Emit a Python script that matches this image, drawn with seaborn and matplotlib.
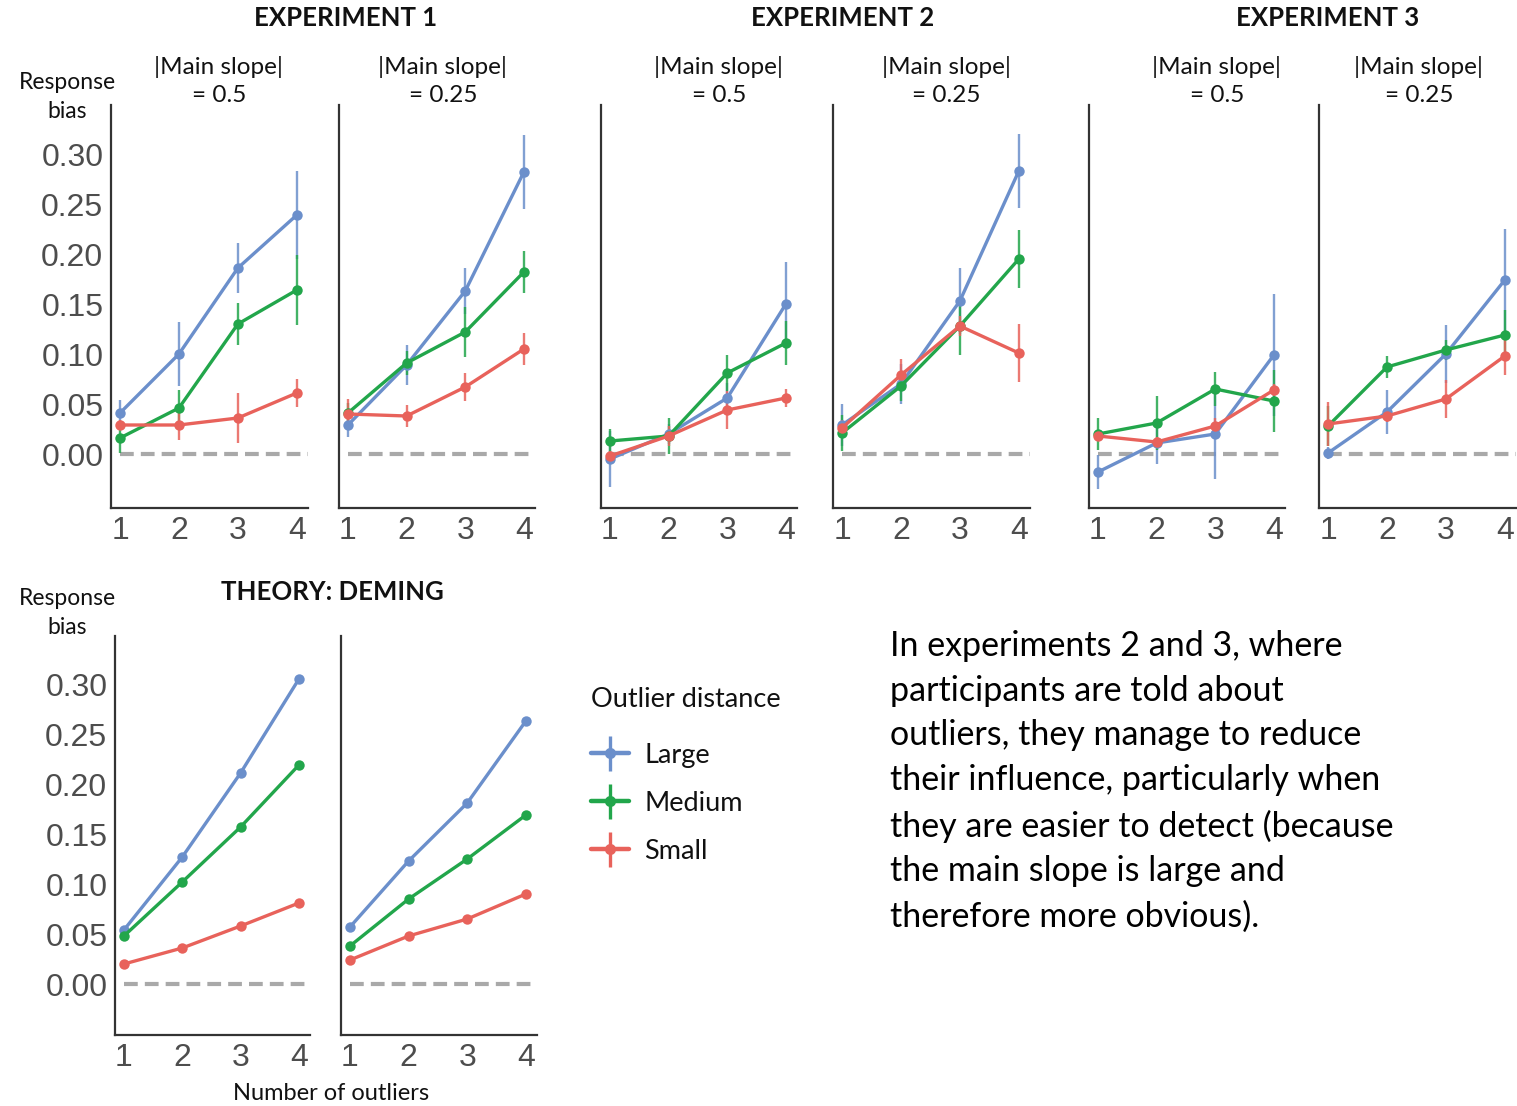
import numpy as np
import pandas as pd
import seaborn as sns
import matplotlib
matplotlib.use("Agg")
import matplotlib.pyplot as plt
from matplotlib.lines import Line2D
from matplotlib.collections import LineCollection
from matplotlib.container import ErrorbarContainer
from matplotlib.legend_handler import HandlerErrorbar

# ---- data ---------------------------------------------------------------
outliers = [1, 2, 3, 4]
distances = ["Large", "Medium", "Small"]

# Experiment 1, |main slope| = 0.5
e1_s05_large = [0.041, 0.100, 0.186, 0.239]
e1_s05_large_err = [0.013, 0.032, 0.025, 0.044]
e1_s05_medium = [0.016, 0.046, 0.130, 0.164]
e1_s05_medium_err = [0.015, 0.018, 0.021, 0.035]
e1_s05_small = [0.029, 0.029, 0.036, 0.061]
e1_s05_small_err = [0.005, 0.015, 0.025, 0.014]

# Experiment 1, |main slope| = 0.25
e1_s025_large = [0.029, 0.089, 0.163, 0.282]
e1_s025_large_err = [0.012, 0.020, 0.023, 0.037]
e1_s025_medium = [0.041, 0.091, 0.122, 0.182]
e1_s025_medium_err = [0.010, 0.012, 0.025, 0.021]
e1_s025_small = [0.040, 0.038, 0.067, 0.105]
e1_s025_small_err = [0.015, 0.011, 0.014, 0.016]

# Experiment 2, |main slope| = 0.5
e2_s05_large = [-0.005, 0.020, 0.056, 0.150]
e2_s05_large_err = [0.028, 0.010, 0.015, 0.042]
e2_s05_medium = [0.013, 0.018, 0.081, 0.111]
e2_s05_medium_err = [0.012, 0.018, 0.018, 0.022]
e2_s05_small = [-0.002, 0.018, 0.044, 0.056]
e2_s05_small_err = [0.005, 0.010, 0.019, 0.009]

# Experiment 2, |main slope| = 0.25
e2_s025_large = [0.029, 0.070, 0.153, 0.283]
e2_s025_large_err = [0.021, 0.020, 0.033, 0.037]
e2_s025_medium = [0.021, 0.068, 0.128, 0.195]
e2_s025_medium_err = [0.018, 0.015, 0.029, 0.029]
e2_s025_small = [0.026, 0.079, 0.128, 0.101]
e2_s025_small_err = [0.008, 0.016, 0.010, 0.029]

# Experiment 3, |main slope| = 0.5
e3_s05_large = [-0.018, 0.011, 0.020, 0.099]
e3_s05_large_err = [0.017, 0.021, 0.045, 0.061]
e3_s05_medium = [0.020, 0.031, 0.065, 0.053]
e3_s05_medium_err = [0.016, 0.027, 0.017, 0.031]
e3_s05_small = [0.018, 0.012, 0.028, 0.064]
e3_s05_small_err = [0.005, 0.005, 0.008, 0.006]

# Experiment 3, |main slope| = 0.25
e3_s025_large = [0.001, 0.042, 0.100, 0.174]
e3_s025_large_err = [0.006, 0.022, 0.029, 0.051]
e3_s025_medium = [0.028, 0.087, 0.104, 0.119]
e3_s025_medium_err = [0.020, 0.011, 0.010, 0.025]
e3_s025_small = [0.030, 0.038, 0.055, 0.098]
e3_s025_small_err = [0.022, 0.006, 0.019, 0.019]

# Deming regression predictions
th_s05_large = [0.054, 0.127, 0.211, 0.305]
th_s05_medium = [0.048, 0.102, 0.157, 0.219]
th_s05_small = [0.020, 0.036, 0.058, 0.081]
th_s025_large = [0.057, 0.123, 0.181, 0.263]
th_s025_medium = [0.038, 0.085, 0.125, 0.169]
th_s025_small = [0.024, 0.048, 0.065, 0.090]

y_ticks = [0.00, 0.05, 0.10, 0.15, 0.20, 0.25, 0.30]
slope_labels = ["|Main slope|\n= 0.5", "|Main slope|\n= 0.25"]
group_titles = ["EXPERIMENT 1", "EXPERIMENT 2", "EXPERIMENT 3", "THEORY: DEMING"]
note = ("In experiments 2 and 3, where\n"
        "participants are told about\n"
        "outliers, they manage to reduce\n"
        "their influence, particularly when\n"
        "they are easier to detect (because\n"
        "the main slope is large and\n"
        "therefore more obvious).")

palette = {"Large": "#6b8fcb", "Medium": "#22a64b", "Small": "#e8625b"}

panels = {
    "e1_s05": ([e1_s05_large, e1_s05_medium, e1_s05_small],
               [e1_s05_large_err, e1_s05_medium_err, e1_s05_small_err]),
    "e1_s025": ([e1_s025_large, e1_s025_medium, e1_s025_small],
                [e1_s025_large_err, e1_s025_medium_err, e1_s025_small_err]),
    "e2_s05": ([e2_s05_large, e2_s05_medium, e2_s05_small],
               [e2_s05_large_err, e2_s05_medium_err, e2_s05_small_err]),
    "e2_s025": ([e2_s025_large, e2_s025_medium, e2_s025_small],
                [e2_s025_large_err, e2_s025_medium_err, e2_s025_small_err]),
    "e3_s05": ([e3_s05_large, e3_s05_medium, e3_s05_small],
               [e3_s05_large_err, e3_s05_medium_err, e3_s05_small_err]),
    "e3_s025": ([e3_s025_large, e3_s025_medium, e3_s025_small],
                [e3_s025_large_err, e3_s025_medium_err, e3_s025_small_err]),
    "th_s05": ([th_s05_large, th_s05_medium, th_s05_small], None),
    "th_s025": ([th_s025_large, th_s025_medium, th_s025_small], None),
}

# ---- style --------------------------------------------------------------
sns.set_style("white")
plt.rcParams["font.family"] = ["Liberation Sans", "DejaVu Sans"]
TXT = ["Lato", "DejaVu Sans"]

W, H = 1517, 1106
fig = plt.figure(figsize=(W / 100, H / 100), dpi=100)


def fx(px):
    return px / W


def fy(py):
    return 1 - py / H


# panel boxes in pixels: (left, top, right, bottom)
boxes = {
    "e1_s05": (111, 105, 308, 508),
    "e1_s025": (339, 105, 535, 508),
    "e2_s05": (601, 105, 797, 508),
    "e2_s025": (833, 105, 1030, 508),
    "e3_s05": (1089, 105, 1285, 508),
    "e3_s025": (1319, 105, 1516, 508),
    "th_s05": (115, 636, 310, 1035),
    "th_s025": (341, 636, 537, 1035),
}
ylims = {"top": (-0.054, 0.349), "bottom": (-0.051, 0.348)}
XLIM = (0.847, 4.19)

draw_order = ["Small", "Medium", "Large"]

for key, (series, errs) in panels.items():
    l, t, r, b = boxes[key]
    ax = fig.add_axes([fx(l), fy(b), fx(r - l), (b - t) / H])
    rows = []
    for name, vals in zip(distances, series):
        for xv, yv in zip(outliers, vals):
            rows.append({"outliers": xv, "bias": yv, "distance": name})
    df = pd.DataFrame(rows)

    x0, x1 = XLIM
    ax.axhline(0, xmin=(1 - x0) / (x1 - x0), xmax=1, color="#a9a9a9",
               lw=3.0, ls=(0, (3.3, 1.7)), zorder=1)

    for name in draw_order:
        i = distances.index(name)
        if errs is not None:
            ax.errorbar(outliers, series[i], yerr=errs[i], fmt="none",
                        ecolor=palette[name], elinewidth=1.7, alpha=0.85,
                        zorder=2 + i * 0.1)
        sns.lineplot(data=df[df["distance"] == name], x="outliers", y="bias",
                     color=palette[name], marker="o", markersize=7.5,
                     markeredgewidth=0, linewidth=2.4, ax=ax, legend=False,
                     zorder=3 + i * 0.1)

    row = "bottom" if key.startswith("th") else "top"
    ax.set_ylim(*ylims[row])
    ax.set_xlim(*XLIM)
    ax.set_xticks(outliers)
    ax.set_yticks(y_ticks)
    ax.set_xlabel("")
    ax.set_ylabel("")
    sns.despine(ax=ax)
    for s in ("left", "bottom"):
        ax.spines[s].set_color("#333333")
        ax.spines[s].set_linewidth(1.6)
    ax.tick_params(axis="both", colors="#333333", length=4, width=1.2,
                   direction="out", labelsize=23, labelcolor="#4d4d4d", pad=1.5)
    ax.tick_params(axis="x", pad=1.5)
    if key in ("e1_s05", "th_s05"):
        ax.set_yticklabels([f"{v:.2f}" for v in y_ticks])
    else:
        ax.set_yticklabels([])
    ax.set_facecolor("none")

# ---- panel and group labels ---------------------------------------------
title_pos = [(346, 18), (843, 18), (1328, 18), (332, 592)]
for txt, (px, py) in zip(group_titles, title_pos):
    fig.text(fx(px), fy(py), txt, ha="center", va="center", fontsize=18.5,
             fontweight="bold", family=TXT, color="#111111")

slope_pos = [219, 443, 719, 946, 1217, 1419]
for i, px in enumerate(slope_pos):
    fig.text(fx(px), fy(81), slope_labels[i % 2], ha="center", va="center",
             fontsize=17.5, family=TXT, color="#111111", linespacing=1.45)

for py in (97, 613):
    fig.text(fx(67), fy(py), "Response\nbias", ha="center", va="center",
             fontsize=16.5, family=TXT, color="#111111", linespacing=1.5)

fig.text(fx(331), fy(1093), "Number of outliers", ha="center", va="center",
         fontsize=17, family=TXT, color="#111111")

# ---- legend -------------------------------------------------------------
handles = []
for name in distances:
    ln = Line2D([], [], color=palette[name], marker="o", markersize=8,
                markeredgewidth=0, linewidth=3.2)
    bars = LineCollection([], colors=palette[name], linewidths=2.4)
    handles.append(ErrorbarContainer((ln, (), (bars,)), has_xerr=False,
                                     has_yerr=True))
leg = fig.legend(handles, distances, loc="upper left",
                 bbox_to_anchor=(fx(567), fy(663)), frameon=False,
                 title="Outlier distance", alignment="left",
                 prop={"family": TXT, "size": 19.5}, title_fontsize=19.5,
                 handlelength=1.4, handletextpad=0.55, labelspacing=0.85,
                 handler_map={ErrorbarContainer: HandlerErrorbar(xerr_size=0.5,
                                                                 yerr_size=0.65)})
leg.get_title().set_family(TXT)
leg.get_title().set_color("#111111")
leg._legend_box.sep = 22
for t in leg.get_texts():
    t.set_color("#111111")

# ---- note ---------------------------------------------------------------
fig.text(fx(890), fy(630), note, ha="left", va="top", fontsize=24.5,
         family=TXT, color="#000000", linespacing=1.49)

fig.savefig("out.png", dpi=100)
